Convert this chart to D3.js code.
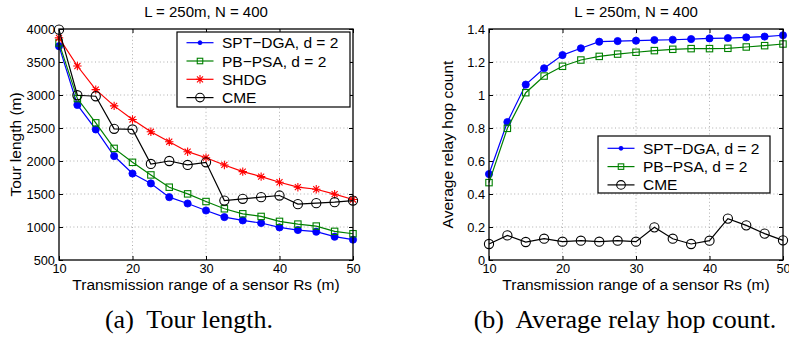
<!DOCTYPE html>
<html><head><meta charset="utf-8">
<script src="https://cdn.jsdelivr.net/npm/d3@7"></script>
<style>
body{margin:0;background:#fff}
svg{display:block}
text{fill:#000}
</style>
</head><body>
<svg id="c" width="789" height="343"></svg>
<script>
// ---------- data ----------
const rs = [10,12.5,15,17.5,20,22.5,25,27.5,30,32.5,35,37.5,40,42.5,45,47.5,50];
const xTicks = [10,20,30,40,50];
const tourTicks = [500,1000,1500,2000,2500,3000,3500,4000];
const hopTicks = [0,0.2,0.4,0.6,0.8,1,1.2,1.4];

const tourSPT   = [3740,2850,2478,2075,1810,1660,1452,1356,1250,1150,1100,1060,994,954,929,853,808];
const tourPBPSA = [3790,2946,2578,2191,1980,1789,1603,1502,1386,1276,1200,1160,1085,1044,1014,934,898];
const tourSHDG  = [3866,3439,3081,2835,2629,2443,2292,2141,2050,1940,1839,1764,1678,1603,1572,1497,1417];
const tourCME   = [3990,2996,2981,2488,2478,1955,2000,1940,1980,1401,1427,1452,1477,1346,1361,1376,1401];

const hopSPT   = [0.521,0.836,1.063,1.162,1.242,1.283,1.323,1.327,1.329,1.333,1.335,1.339,1.343,1.345,1.349,1.354,1.362];
const hopPBPSA = [0.469,0.798,1.014,1.115,1.174,1.212,1.234,1.248,1.259,1.269,1.277,1.281,1.281,1.283,1.291,1.299,1.309];
const hopCME   = [0.097,0.149,0.109,0.129,0.111,0.117,0.111,0.117,0.111,0.198,0.129,0.097,0.117,0.251,0.210,0.160,0.119];

const seriesNames = ["SPT\u2212DGA, d = 2","PB\u2212PSA, d = 2","SHDG","CME"];
const title = "L = 250m, N = 400";
const xLabel = "Transmission range of a sensor Rs (m)";
const captions = ["(a)\u00a0 Tour length.","(b)\u00a0 Average relay hop count."];

// ---------- drawing ----------
const SANS = "'Liberation Sans', Arial, Helvetica, sans-serif";
const SERIF = "'Liberation Serif', 'Times New Roman', serif";
const svg = d3.select("#c");
svg.append("rect").attr("width",789).attr("height",343).attr("fill","#fff");

const styles = {
  spt:  {color:"#0000ff", marker:"dot"},
  pb:   {color:"#008000", marker:"square"},
  shdg: {color:"#ff0000", marker:"star"},
  cme:  {color:"#000000", marker:"circle"}
};

function drawMarker(g, type, color, cx, cy, legend){
  if(type==="dot"){
    g.append("circle").attr("cx",cx).attr("cy",cy).attr("r",legend?2:3.6)
      .attr("fill",color).attr("stroke",color).attr("stroke-width",0.8);
  } else if(type==="square"){
    const s = legend?5.5:6.4;
    g.append("rect").attr("x",cx-s/2).attr("y",cy-s/2).attr("width",s).attr("height",s)
      .attr("fill","none").attr("stroke",color).attr("stroke-width",1.1);
  } else if(type==="star"){
    const r = 4.2, d = r*0.72;
    g.append("path").attr("d",`M${cx-r},${cy}H${cx+r}M${cx},${cy-r}V${cy+r}M${cx-d},${cy-d}L${cx+d},${cy+d}M${cx-d},${cy+d}L${cx+d},${cy-d}`)
      .attr("stroke",color).attr("stroke-width",1.1).attr("fill","none");
  } else if(type==="circle"){
    g.append("circle").attr("cx",cx).attr("cy",cy).attr("r",legend?4.3:4.6)
      .attr("fill","none").attr("stroke",color).attr("stroke-width",1.1);
  }
}

function panel(cfg){
  const {x0,x1,y0,y1,yDomain,yTicks,yFmt,series,ylabel,ylabelX,legend,titleX,capX,caption,yPad} = cfg;
  const g = svg.append("g");
  const x = d3.scaleLinear().domain([10,50]).range([x0,x1]);
  const y = d3.scaleLinear().domain(yDomain).range([y1,y0]);

  // grid
  const grid = g.append("g").attr("stroke","#9a9a9a").attr("stroke-width",0.8).attr("stroke-dasharray","1,2.6");
  xTicks.slice(1,-1).forEach(t=>grid.append("line").attr("x1",x(t)).attr("x2",x(t)).attr("y1",y0).attr("y2",y1));
  yTicks.slice(1,-1).forEach(t=>grid.append("line").attr("x1",x0).attr("x2",x1).attr("y1",y(t)).attr("y2",y(t)));

  // axes
  const ax = [
    [d3.axisBottom(x).tickValues(xTicks).tickSizeInner(-4).tickSizeOuter(0).tickPadding(4), `translate(0,${y1})`],
    [d3.axisTop(x).tickValues(xTicks).tickSizeInner(-4).tickSizeOuter(0).tickFormat(""), `translate(0,${y0})`],
    [d3.axisLeft(y).tickValues(yTicks).tickSizeInner(-4).tickSizeOuter(0).tickPadding(yPad).tickFormat(yFmt), `translate(${x0},0)`],
    [d3.axisRight(y).tickValues(yTicks).tickSizeInner(-4).tickSizeOuter(0).tickFormat(""), `translate(${x1},0)`]
  ];
  ax.forEach(([a,tr])=>{
    const ag = g.append("g").attr("transform",tr).call(a);
    ag.select(".domain").remove();
    ag.selectAll(".tick line").attr("stroke","#000").attr("stroke-width",1);
    ag.selectAll("text").style("font-size","12.8px").style("font-family",SANS).attr("fill","#000");
  });

  // lines + markers
  series.forEach(s=>{
    const st = styles[s.key];
    const line = d3.line().x((d,i)=>x(rs[i])).y(d=>y(d));
    g.append("path").datum(s.values).attr("d",line).attr("fill","none")
      .attr("stroke",st.color).attr("stroke-width",1.2);
    const mg = g.append("g");
    s.values.forEach((v,i)=>drawMarker(mg, st.marker, st.color, x(rs[i]), y(v), false));
  });

  // frame
  g.append("rect").attr("x",x0).attr("y",y0).attr("width",x1-x0).attr("height",y1-y0)
    .attr("fill","none").attr("stroke","#000").attr("stroke-width",1.3);

  // legend
  const lg = g.append("g");
  lg.append("rect").attr("x",legend.x).attr("y",legend.y).attr("width",legend.w).attr("height",legend.h)
    .attr("fill","#fff").attr("stroke","#000").attr("stroke-width",1.2);
  series.forEach((s,i)=>{
    const st = styles[s.key];
    const cy = legend.y + legend.first + i*legend.step;
    const lx0 = legend.x + 9.5, lx1 = legend.x + 36.5;
    lg.append("line").attr("x1",lx0).attr("x2",lx1).attr("y1",cy).attr("y2",cy).attr("stroke",st.color).attr("stroke-width",1.2);
    drawMarker(lg, st.marker, st.color, (lx0+lx1)/2, cy, true);
    lg.append("text").attr("x",legend.x+45).attr("y",cy+5.5)
      .style("font-family",SANS).style("font-size","15.5px").text(s.name);
  });

  // texts
  g.append("text").attr("x",titleX).attr("y",17).attr("text-anchor","middle")
    .style("font-family",SANS).style("font-size","15px").text(title);
  g.append("text").attr("x",(x0+x1)/2).attr("y",290).attr("text-anchor","middle")
    .style("font-family",SANS).style("font-size","15.5px").text(xLabel);
  g.append("text").attr("transform",`translate(${ylabelX},${(y0+y1)/2}) rotate(-90)`)
    .attr("text-anchor","middle").style("font-family",SANS).style("font-size","15.5px").text(ylabel);
  g.append("text").attr("x",capX).attr("y",328).attr("text-anchor","middle")
    .style("font-family",SERIF).style("font-size","26px").text(caption);
}

panel({
  x0:59, x1:353, y0:29, y1:260,
  yDomain:[500,4000], yTicks:tourTicks, yFmt:d3.format("d"), yPad:4,
  series:[
    {key:"spt", name:seriesNames[0], values:tourSPT},
    {key:"pb", name:seriesNames[1], values:tourPBPSA},
    {key:"shdg", name:seriesNames[2], values:tourSHDG},
    {key:"cme", name:seriesNames[3], values:tourCME}
  ],
  ylabel:"Tour length (m)", ylabelX:21,
  legend:{x:177, y:32, w:173, h:75, first:10.7, step:18.3},
  titleX:206, capX:189, caption:captions[0]
});

panel({
  x0:489, x1:783, y0:29, y1:260,
  yDomain:[0,1.4], yTicks:hopTicks, yFmt:d3.format("~g"), yPad:4,
  series:[
    {key:"spt", name:seriesNames[0], values:hopSPT},
    {key:"pb", name:seriesNames[1], values:hopPBPSA},
    {key:"cme", name:seriesNames[3], values:hopCME}
  ],
  ylabel:"Average relay hop count", ylabelX:453,
  legend:{x:598, y:136, w:172, h:57, first:12.3, step:18.3},
  titleX:636, capX:625, caption:captions[1]
});
</script>
</body></html>
